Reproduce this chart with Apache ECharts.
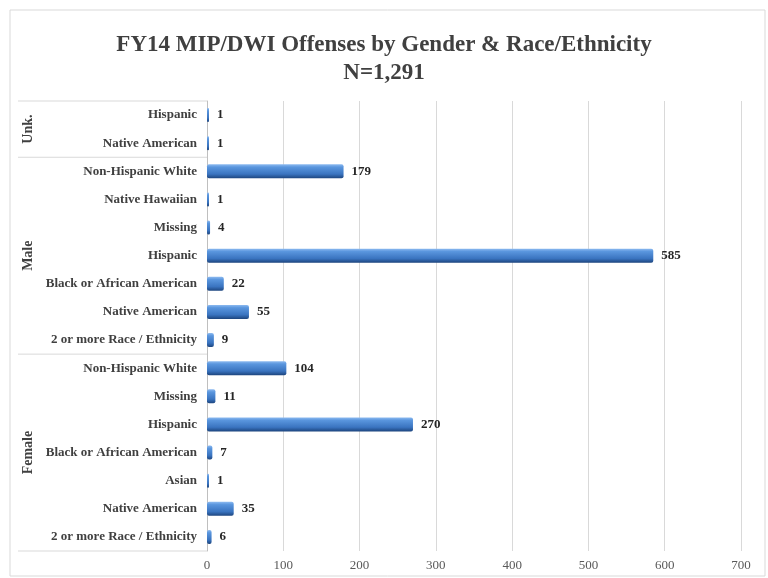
<!DOCTYPE html>
<html>
<head>
<meta charset="utf-8">
<script src="https://cdn.jsdelivr.net/npm/echarts@6/dist/echarts.min.js"></script>
<style>
html, body { margin: 0; padding: 0; background: #fff; }
#main { width: 768px; height: 578px; }
</style>
</head>
<body>
<div id="main"></div>
<script>
// groups from top to bottom, each with its own rows
var groupNames = ['Unk.', 'Male', 'Female'];
var groupSizes = [2, 7, 7];
var raceList = ['Hispanic', 'Native American',
    'Non-Hispanic White', 'Native Hawaiian', 'Missing', 'Hispanic', 'Black or African American', 'Native American', '2 or more Race / Ethnicity',
    'Non-Hispanic White', 'Missing', 'Hispanic', 'Black or African American', 'Asian', 'Native American', '2 or more Race / Ethnicity'];
var countList = [1, 1,
    179, 1, 4, 585, 22, 55, 9,
    104, 11, 270, 7, 1, 35, 6];
var xTicks = [0, 100, 200, 300, 400, 500, 600, 700];

var serif = '"Liberation Serif", "DejaVu Serif", serif';
var lineColor = '#d9d9d9';

// unique keys so repeated race names stay on their own rows
var catKeys = [];
for (var i = 0; i < raceList.length; i++) {
    catKeys.push(i + '|' + raceList[i]);
}

var chart = echarts.init(document.getElementById('main'));

var option = {
    animation: false,
    title: {
        text: 'FY14 MIP/DWI Offenses by Gender & Race/Ethnicity\nN=1,291',
        left: 'center',
        top: 26,
        textStyle: {
            fontFamily: serif,
            fontSize: 23,
            fontWeight: 'bold',
            color: '#404040',
            lineHeight: 28
        }
    },
    grid: { left: 207, right: 27, top: 101, bottom: 27 },
    xAxis: {
        type: 'value',
        min: xTicks[0],
        max: xTicks[xTicks.length - 1],
        interval: xTicks[1] - xTicks[0],
        axisLine: { show: false },
        axisTick: { show: false },
        splitLine: { lineStyle: { color: lineColor } },
        axisLabel: { fontFamily: serif, fontSize: 13, color: '#595959', margin: 8 }
    },
    yAxis: {
        type: 'category',
        inverse: true,
        data: catKeys,
        axisLine: { lineStyle: { color: '#bfbfbf' } },
        axisTick: { show: false },
        axisLabel: {
            fontFamily: serif,
            fontSize: 13,
            fontWeight: 'bold',
            color: '#404040',
            margin: 10,
            formatter: function(v) { return v.split('|')[1]; }
        }
    },
    series: [{
        type: 'bar',
        data: countList,
        barWidth: 14,
        barMinHeight: 2,
        itemStyle: {
            borderRadius: 2,
            color: new echarts.graphic.LinearGradient(0, 0, 0, 1, [
                { offset: 0, color: '#8dbaf0' },
                { offset: 0.2, color: '#5a96de' },
                { offset: 0.7, color: '#3a74c0' },
                { offset: 1, color: '#1d457e' }
            ])
        },
        label: {
            show: true,
            position: 'right',
            distance: 8,
            fontFamily: serif,
            fontSize: 13,
            fontWeight: 'bold',
            color: '#262626'
        }
    }]
};
chart.setOption(option);

// group separators and rotated group names on the left
function drawGroups() {
    var p0 = chart.convertToPixel({ yAxisIndex: 0 }, catKeys[0]);
    var p1 = chart.convertToPixel({ yAxisIndex: 0 }, catKeys[1]);
    var step = p1 - p0;
    var y = p0 - step / 2;
    var elements = [];
    elements.push({
        type: 'rect',
        shape: { x: 10, y: 10, width: 755, height: 566 },
        style: { fill: 'none', stroke: lineColor, lineWidth: 1 },
        silent: true
    });
    elements.push({
        type: 'line',
        shape: { x1: 18, y1: y, x2: 207, y2: y },
        style: { stroke: lineColor, lineWidth: 1 }
    });
    for (var g = 0; g < groupNames.length; g++) {
        var y2 = y + groupSizes[g] * step;
        elements.push({
            type: 'line',
            shape: { x1: 18, y1: y2, x2: 207, y2: y2 },
            style: { stroke: lineColor, lineWidth: 1 }
        });
        elements.push({
            type: 'text',
            x: 28,
            y: (y + y2) / 2,
            rotation: Math.PI / 2,
            style: {
                text: groupNames[g],
                fontFamily: serif,
                fontSize: 14,
                fontWeight: 'bold',
                fill: '#404040',
                align: 'center',
                verticalAlign: 'middle'
            }
        });
        y = y2;
    }
    chart.setOption({ graphic: { elements: elements } });
}
drawGroups();
</script>
</body>
</html>
